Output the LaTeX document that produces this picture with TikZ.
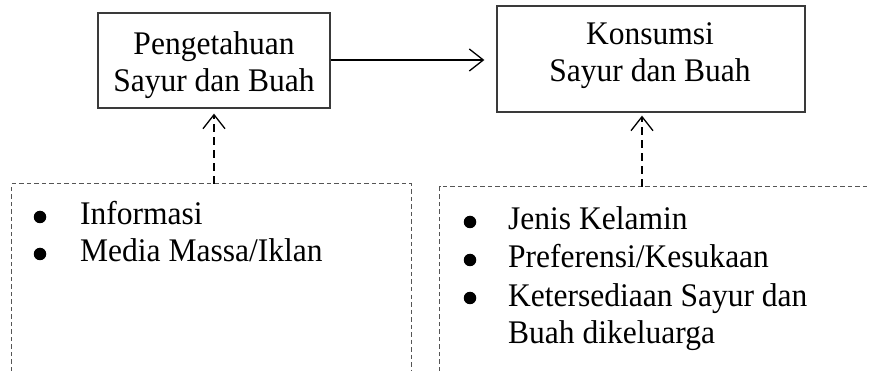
\documentclass[tikz,border=0pt]{standalone}
\usepackage{fontspec}
\setmainfont{Liberation Serif}[FakeStretch=0.955]
\usetikzlibrary{arrows.meta}
\definecolor{frame}{HTML}{3A3A3A}
\definecolor{dashc}{HTML}{555555}
\begin{document}
\begin{tikzpicture}[x=1pt,y=-1pt,
  boxframe/.style={draw=frame, line width=1.3pt, rectangle, inner sep=0pt},
  boxtext/.style={align=center, inner sep=0pt, font=\fontsize{33}{37}\selectfont},
  itemtext/.style={inner sep=0pt, font=\fontsize{33}{37}\selectfont},
  bul/.style={circle, fill=black, draw=none, minimum size=12.5pt, inner sep=0pt},
  framezone/.style={draw=none, rectangle, inner sep=0pt},
  thinframe/.style={draw=dashc, line width=0.9pt, dash pattern=on 4.5pt off 3pt},
  vee/.style={-{Straight Barb[length=14pt,width=22pt,line width=1.3pt]}},
  conn/.style={line width=1.3pt, black},
  dconn/.style={line width=1.6pt, black, dash pattern=on 8pt off 5pt}
]
\useasboundingbox (0,0) rectangle (870,371);

% solid boxes
\node[boxframe, minimum width=232pt, minimum height=95pt] (b1) at (214,60.5) {};
\node[boxtext] (b1t) at (214,65.5) {Pengetahuan\\Sayur dan Buah};
\node[boxframe, minimum width=308pt, minimum height=106pt] (b2) at (651,59) {};
\node[boxtext] (b2t) at (650,55.5) {Konsumsi\\Sayur dan Buah};

% dashed frames (open at the bottom / right)
\node[framezone, minimum width=399pt, minimum height=187pt] (f1) at (211.5,277.5) {};
\node[framezone, minimum width=440pt, minimum height=184pt] (f2) at (660,279) {};
\draw[thinframe] (f1.south west) -- (f1.north west) -- (f1.north east) -- (f1.south east);
\draw[thinframe] (f2.south west) -- (f2.north west) -- (f2.north east);

% connectors
\draw[conn, vee, shorten >=12pt] (b1.east |- 0,60) -- (b2.west |- 0,60);
\draw[dconn, vee, shorten >=5pt] (f1.north -| b1.south) -- (b1.south);
\coordinate (c2) at (642,187);
\draw[dconn, vee, shorten >=3pt] (c2) -- (c2 |- b2.south);

% left list
\node[bul] (l1b) at (40,217) {};
\node[itemtext, anchor=base west] (l1) at (80,225) {Informasi};
\node[bul] (l2b) at (40,254) {};
\node[itemtext, anchor=base west] (l2) at (80,262) {Media Massa/Iklan};

% right list
\node[bul] (r1b) at (470,222) {};
\node[itemtext, anchor=base west] (r1) at (508,230) {Jenis Kelamin};
\node[bul] (r2b) at (470,260) {};
\node[itemtext, anchor=base west] (r2) at (508,268) {Preferensi/Kesukaan};
\node[bul] (r3b) at (470,298) {};
\node[itemtext, anchor=base west] (r3) at (508,306) {Ketersediaan Sayur dan};
\node[itemtext, anchor=base west] (r4) at (508,343) {Buah dikeluarga};
\end{tikzpicture}
\end{document}
